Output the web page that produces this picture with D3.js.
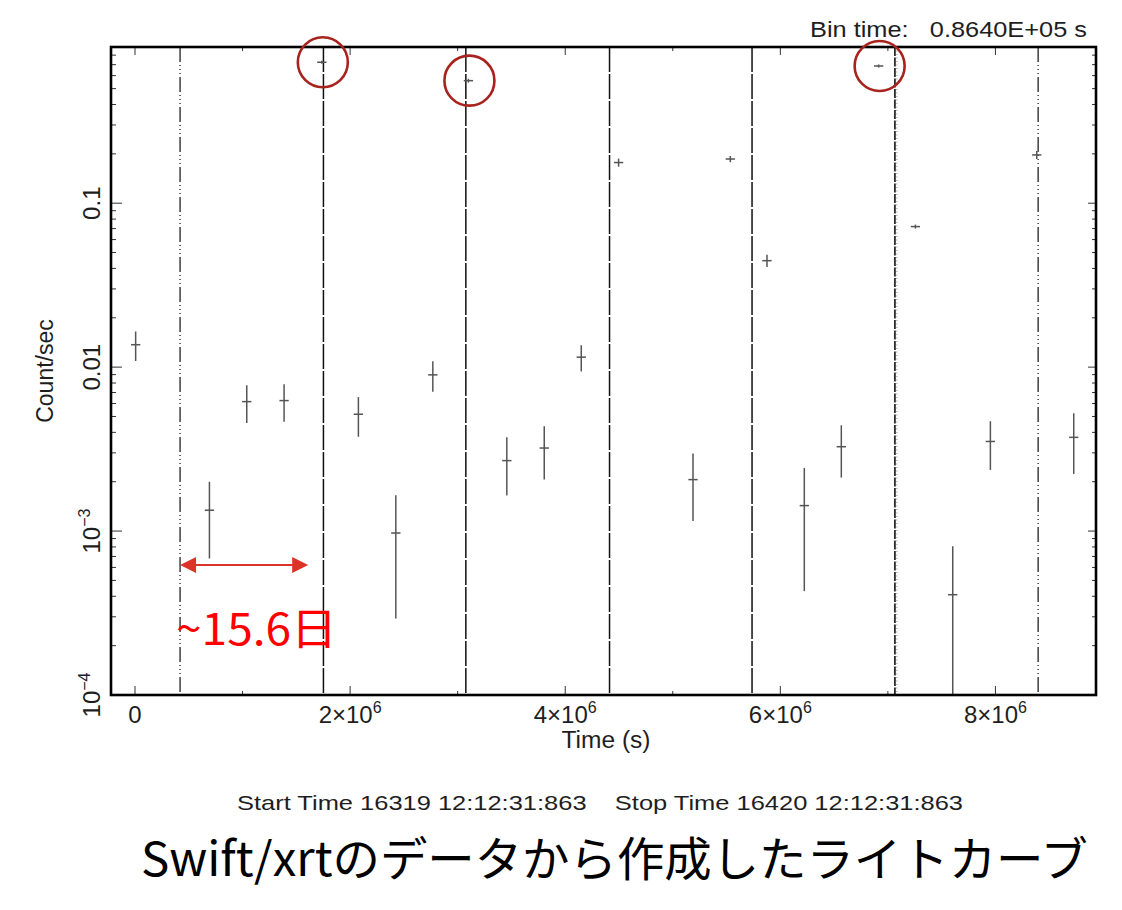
<!DOCTYPE html>
<html>
<head>
<meta charset="utf-8">
<script src="https://cdn.jsdelivr.net/npm/d3@7"></script>
<style>
  html, body { margin: 0; padding: 0; background: #fff; }
  svg { display: block; }
  text { white-space: pre; }
</style>
</head>
<body>
<svg id="chart" width="1122" height="910"></svg>
<script>
// Swift/XRT light curve, 86400 s bins (count rate vs time since start)
const binTime = 86400;
const times = [6000, 692000, 1039000, 1386000, 1737000, 2077000, 2425000, 2769000,
               3100000, 3457000, 3805000, 4149000, 4496000, 5188000, 5535000, 5876000,
               6223000, 6567000, 6914000, 7256000, 7603000, 7953000, 8384000, 8728000];
const rates = [0.0137, 0.00134, 0.00616, 0.00625, 0.724, 0.00516, 0.000973, 0.00897,
               0.559, 0.00269, 0.00321, 0.0115, 0.177, 0.00206, 0.186, 0.0446,
               0.00143, 0.00327, 0.687, 0.072, 0.000409, 0.00352, 0.197, 0.00373];
const rateErrors = [0.0028, 0.00066, 0.0016, 0.0016, 0.015, 0.0014, 0.00068, 0.0019,
                    0.015, 0.00104, 0.00115, 0.0021, 0.010, 0.00091, 0.008, 0.0038,
                    0.0010, 0.00115, 0.015, 0.002, 0.0004, 0.00116, 0.011, 0.0015];

// Vertical guide lines (s), spaced by the ~15.6 day period
const markerTimes = [419000, 1752000, 3076000, 4412000, 5737000, 7070000, 8397000];

// Axis ticks
const xTickValues = [0, 2e6, 4e6, 6e6, 8e6];
const xTickBase = ["0", "2×10", "4×10", "6×10", "8×10"];
const xTickExp = ["", "6", "6", "6", "6"];
const xMinorValues = [1e6, 3e6, 5e6, 7e6];
const yTickValues = [1e-4, 1e-3, 0.01, 0.1];
const yTickBase = ["10", "10", "0.01", "0.1"];
const yTickExp = ["−4", "−3", "", ""];

// Axis extents
const xDomain = [-223200, 8935000];
const yDomain = [1e-4, 0.897];

// Period annotation: arrow between two epochs at a given rate level
const periodArrow = [419000, 1610000];
const periodArrowRate = 6.2e-4;
const periodLabelRate = 2.02e-4;
const flareThreshold = 0.3;

const frame = { left: 111, right: 1096, top: 47, bottom: 695 };
const svg = d3.select("#chart");
const x = d3.scaleLinear().domain(xDomain).range([frame.left, frame.right]);
const y = d3.scaleLog().domain(yDomain).range([frame.bottom, frame.top]);
const FONT = "'Liberation Sans', Arial, Helvetica, sans-serif";
const JFONT = "'Noto Sans CJK JP', 'Noto Sans', sans-serif";
const INK = "#1e1e1e";

svg.append("defs").append("clipPath").attr("id", "plotclip")
  .append("rect")
  .attr("x", frame.left).attr("y", frame.top)
  .attr("width", frame.right - frame.left).attr("height", frame.bottom - frame.top);

const plot = svg.append("g").attr("clip-path", "url(#plotclip)");

// Guide lines: dash-dot at the ends, long dashes in between, a doubled one at 7e6
const lineKinds = ["dashdot", "dash", "dash", "dash", "dash", "double", "dashdot"];
markerTimes.forEach((t, i) => {
  const px = x(t);
  const kind = lineKinds[i];
  if (kind === "dashdot") {
    plot.append("line").attr("x1", px).attr("x2", px)
      .attr("y1", frame.top).attr("y2", frame.bottom)
      .attr("stroke", "#222").attr("stroke-width", 1.3)
      .attr("stroke-dasharray", "15,3,1,3,1,3,1,3");
  } else if (kind === "dash") {
    plot.append("line").attr("x1", px).attr("x2", px)
      .attr("y1", frame.top).attr("y2", frame.bottom)
      .attr("stroke", "#111").attr("stroke-width", 1.5)
      .attr("stroke-dasharray", "25,2");
  } else {
    plot.append("line").attr("x1", px - 0.5).attr("x2", px - 0.5)
      .attr("y1", frame.top).attr("y2", frame.bottom)
      .attr("stroke", "#111").attr("stroke-width", 1.6)
      .attr("stroke-dasharray", "9,1.5");
    plot.append("line").attr("x1", px + 1.5).attr("x2", px + 1.5)
      .attr("y1", frame.top).attr("y2", frame.bottom)
      .attr("stroke", "#888").attr("stroke-width", 1)
      .attr("stroke-dasharray", "1,2.5");
  }
});

// Data points: horizontal bar = bin width, vertical bar = 1-sigma error
const points = times.map((t, i) => ({ t, r: rates[i], e: rateErrors[i] }));
const pts = plot.append("g").attr("stroke", "#555").attr("stroke-width", 1.5);
points.forEach(p => {
  const lo = Math.max(p.r - p.e, 1e-6);
  pts.append("line")
    .attr("x1", x(p.t)).attr("x2", x(p.t))
    .attr("y1", y(p.r + p.e)).attr("y2", y(lo));
  pts.append("line")
    .attr("x1", x(p.t - binTime / 2)).attr("x2", x(p.t + binTime / 2))
    .attr("y1", y(p.r)).attr("y2", y(p.r));
});

// Ticks on all four sides
const tk = svg.append("g").attr("stroke", "#333").attr("stroke-width", 1);
xTickValues.forEach(v => {
  tk.append("line").attr("x1", x(v)).attr("x2", x(v)).attr("y1", frame.bottom).attr("y2", frame.bottom - 9);
  tk.append("line").attr("x1", x(v)).attr("x2", x(v)).attr("y1", frame.top).attr("y2", frame.top + 8);
});
xMinorValues.forEach(v => {
  tk.append("line").attr("x1", x(v)).attr("x2", x(v)).attr("y1", frame.bottom).attr("y2", frame.bottom - 4);
  tk.append("line").attr("x1", x(v)).attr("x2", x(v)).attr("y1", frame.top).attr("y2", frame.top + 4);
});
const yMinor = [];
[1e-4, 1e-3, 1e-2, 1e-1].forEach(d => {
  for (let k = 2; k <= 9; k++) { if (d * k <= yDomain[1]) yMinor.push(d * k); }
});
yTickValues.forEach(v => {
  tk.append("line").attr("x1", frame.left).attr("x2", frame.left + 11).attr("y1", y(v)).attr("y2", y(v));
  tk.append("line").attr("x1", frame.right).attr("x2", frame.right - 8).attr("y1", y(v)).attr("y2", y(v));
});
yMinor.forEach(v => {
  tk.append("line").attr("x1", frame.left).attr("x2", frame.left + 5).attr("y1", y(v)).attr("y2", y(v));
  tk.append("line").attr("x1", frame.right).attr("x2", frame.right - 4).attr("y1", y(v)).attr("y2", y(v));
});

// Frame
svg.append("rect")
  .attr("x", frame.left).attr("y", frame.top)
  .attr("width", frame.right - frame.left).attr("height", frame.bottom - frame.top)
  .attr("fill", "none").attr("stroke", "#000").attr("stroke-width", 2.6);

// X tick labels
xTickValues.forEach((v, i) => {
  const t = svg.append("text")
    .attr("x", x(v)).attr("y", 723)
    .attr("text-anchor", "middle")
    .attr("font-family", FONT).attr("font-size", 24).attr("fill", INK);
  t.append("tspan").text(xTickBase[i]);
  if (xTickExp[i]) t.append("tspan").attr("dy", -10).attr("font-size", 16).text(xTickExp[i]);
});

// Y tick labels (rotated)
yTickValues.forEach((v, i) => {
  const t = svg.append("text")
    .attr("transform", `translate(100,${y(v)}) rotate(-90)`)
    .attr("text-anchor", "middle")
    .attr("font-family", FONT).attr("font-size", 24).attr("fill", INK);
  t.append("tspan").text(yTickBase[i]);
  if (yTickExp[i]) t.append("tspan").attr("dy", -10).attr("font-size", 16).text(yTickExp[i]);
});

// Axis titles
svg.append("text")
  .attr("x", 606).attr("y", 748).attr("text-anchor", "middle")
  .attr("font-family", FONT).attr("font-size", 23).attr("fill", INK)
  .attr("textLength", 89).attr("lengthAdjust", "spacingAndGlyphs")
  .text("Time (s)");
svg.append("text")
  .attr("transform", `translate(53,${(frame.top + frame.bottom) / 2}) rotate(-90)`)
  .attr("text-anchor", "middle")
  .attr("font-family", FONT).attr("font-size", 23).attr("fill", INK)
  .text("Count/sec");

// Header and footer lines
svg.append("text")
  .attr("x", 810).attr("y", 37)
  .attr("font-family", FONT).attr("font-size", 22).attr("fill", INK)
  .attr("textLength", 277).attr("lengthAdjust", "spacingAndGlyphs")
  .text("Bin time:   0.8640E+05 s");
svg.append("text")
  .attr("x", 237).attr("y", 810)
  .attr("font-family", FONT).attr("font-size", 21).attr("fill", INK)
  .attr("textLength", 726).attr("lengthAdjust", "spacingAndGlyphs")
  .text("Start Time 16319 12:12:31:863    Stop Time 16420 12:12:31:863");

// Flares circled
points.filter(p => p.r > flareThreshold).forEach(p => {
  svg.append("circle")
    .attr("cx", x(p.t) + 1).attr("cy", y(p.r))
    .attr("r", 25)
    .attr("fill", "none").attr("stroke", "#a8231d").attr("stroke-width", 2.6);
});

// Period arrow
const ax1 = x(periodArrow[0]), ax2 = x(periodArrow[1]), ay = y(periodArrowRate);
const arrowColor = "#dc3328";
svg.append("line")
  .attr("x1", ax1 + 14).attr("x2", ax2 - 14).attr("y1", ay).attr("y2", ay)
  .attr("stroke", arrowColor).attr("stroke-width", 2);
svg.append("path")
  .attr("d", `M${ax1},${ay} L${ax1 + 16},${ay - 8} L${ax1 + 16},${ay + 8} Z`)
  .attr("fill", arrowColor);
svg.append("path")
  .attr("d", `M${ax2},${ay} L${ax2 - 16},${ay - 8} L${ax2 - 16},${ay + 8} Z`)
  .attr("fill", arrowColor);
svg.append("text")
  .attr("x", ax1 - 4).attr("y", y(periodLabelRate))
  .attr("font-family", JFONT).attr("font-size", 44).attr("fill", "#ff0000")
  .attr("textLength", 161).attr("lengthAdjust", "spacingAndGlyphs")
  .text("~15.6日");

// Caption
svg.append("text")
  .attr("x", 141).attr("y", 876)
  .attr("font-family", JFONT).attr("font-size", 47).attr("fill", "#000")
  .attr("textLength", 947).attr("lengthAdjust", "spacingAndGlyphs")
  .text("Swift/xrtのデータから作成したライトカーブ");
</script>
</body>
</html>
